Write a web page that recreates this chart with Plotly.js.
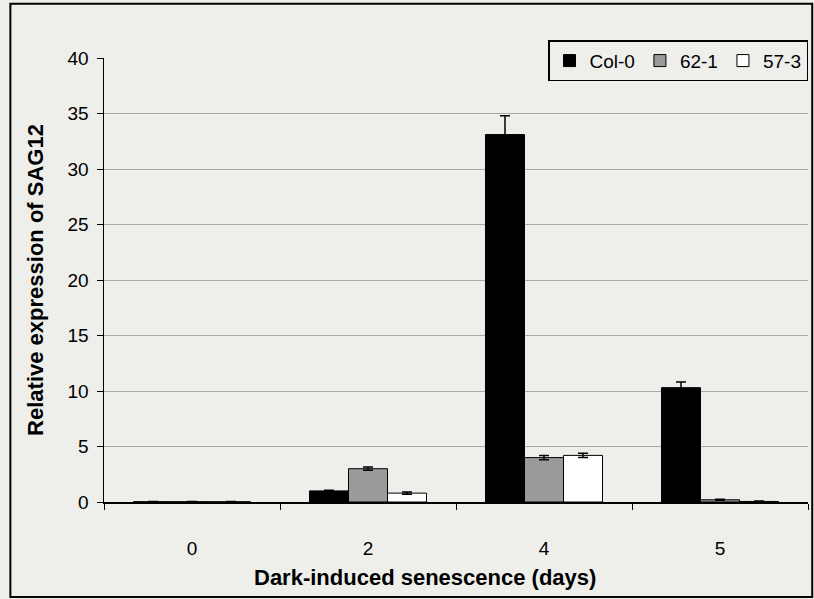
<!DOCTYPE html>
<html>
<head>
<meta charset="utf-8">
<script src="https://cdn.plot.ly/plotly-3.0.1.min.js"></script>
<style>
  html, body { margin: 0; padding: 0; background: #eeeeeb; }
  #chart { width: 814px; height: 599px; }
</style>
</head>
<body>
<div id="chart"></div>
<script>
// Days of dark-induced senescence
const days = ['0', '2', '4', '5'];

// Relative SAG12 expression per line
const col0 = [0.02, 1.0, 33.1, 10.3];
const line62_1 = [0.02, 3.0, 4.0, 0.2];
const line57_3 = [0.02, 0.8, 4.2, 0.05];

// Standard errors
const col0Err = [0.02, 0.05, 1.7, 0.5];
const line62_1Err = [0.02, 0.15, 0.2, 0.05];
const line57_3Err = [0.02, 0.1, 0.2, 0.03];

const yTicks = [0, 5, 10, 15, 20, 25, 30, 35, 40];

const xTitle = 'Dark-induced senescence (days)';
const yTitle = 'Relative expression of SAG12';

function series(name, y, err, fill) {
  return {
    type: 'bar',
    name: name,
    x: days,
    y: y,
    marker: { color: fill, line: { color: '#000000', width: 1 } },
    error_y: { type: 'data', array: err, visible: true, color: '#000000', thickness: 1.5, width: 5 }
  };
}

const data = [
  series('Col-0', col0, col0Err, '#000000'),
  series('62-1', line62_1, line62_1Err, '#9a9a9a'),
  series('57-3', line57_3, line57_3Err, '#ffffff')
];

const layout = {
  width: 814,
  height: 599,
  margin: { l: 104, r: 6, t: 58, b: 97 },
  paper_bgcolor: '#eeeeeb',
  plot_bgcolor: '#eeeeeb',
  font: { family: 'Liberation Sans, Arial, sans-serif', color: '#000000', size: 19 },
  barmode: 'group',
  bargap: 0.335,
  bargroupgap: 0,
  showlegend: true,
  legend: {
    orientation: 'h',
    x: 1.0, xanchor: 'right',
    y: 1.04, yanchor: 'top',
    bgcolor: '#eeeeeb',
    bordercolor: '#000000',
    borderwidth: 1.5,
    font: { size: 19 },
    itemwidth: 30,
    tracegroupgap: 0
  },
  xaxis: {
    type: 'category',
    showline: true,
    linecolor: '#000000',
    linewidth: 1.5,
    ticks: 'outside',
    tickson: 'boundaries',
    ticklen: 6,
    tickcolor: '#000000',
    ticklabelstandoff: 29,
    tickfont: { size: 19 }
  },
  yaxis: {
    range: [0, 40],
    tickvals: yTicks,
    showline: true,
    linecolor: '#000000',
    linewidth: 1.5,
    ticks: 'outside',
    ticklen: 6,
    tickcolor: '#000000',
    showgrid: true,
    gridcolor: '#a8a8a8',
    gridwidth: 1,
    zeroline: false,
    tickfont: { size: 19 },
    ticklabelstandoff: 4,
    title: { text: yTitle, font: { size: 22, weight: 'bold' }, standoff: 18 }
  },
  annotations: [{
    xref: 'paper', yref: 'paper',
    x: 0.456, y: -0.171,
    xanchor: 'center', yanchor: 'middle',
    showarrow: false,
    text: '<b>' + xTitle + '</b>',
    font: { size: 22 }
  }],
  shapes: [{
    type: 'rect', xref: 'paper', yref: 'paper',
    x0: -0.133, x1: 1.006, y0: -0.214, y1: 1.122,
    line: { color: '#000000', width: 2 }, fillcolor: 'rgba(0,0,0,0)'
  }]
};

Plotly.newPlot('chart', data, layout, { displayModeBar: false, staticPlot: true });
</script>
</body>
</html>
